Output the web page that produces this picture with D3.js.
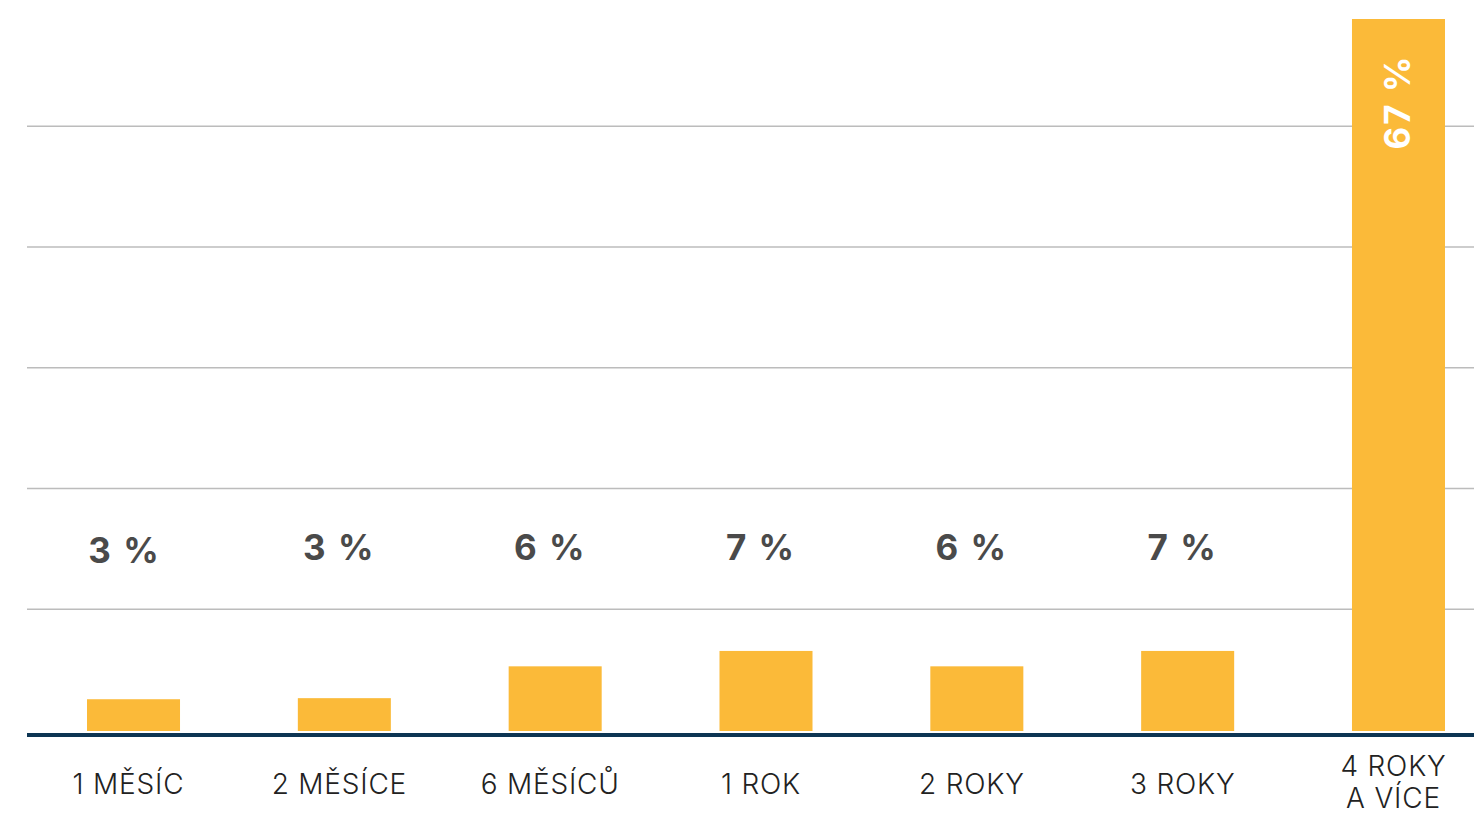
<!DOCTYPE html>
<html><head><meta charset="utf-8">
<script src="https://cdn.jsdelivr.net/npm/d3@7"></script>
<style>body{margin:0;background:#fff}svg{display:block}</style>
</head><body>
<svg id="c" width="1474" height="814"></svg>
<script>
const categories = [["1 MĚSÍC"],["2 MĚSÍCE"],["6 MĚSÍCŮ"],["1 ROK"],["2 ROKY"],["3 ROKY"],["4 ROKY","A VÍCE"]];
const values = [2.9, 3.0, 6.0, 7.45, 6.0, 7.45, 67];
const valueLabels = ["3 %","3 %","6 %","7 %","6 %","7 %","67 %"];
const gridValues = [11.38, 22.76, 34.14, 45.52, 56.9];

const svg = d3.select("#c");
const left = 27, right = 1474, y0 = 730, yTop = 19;
const x = d3.scaleBand().domain(d3.range(categories.length)).range([27, 1505]).paddingInner(0.5588).paddingOuter(0.2846);
const y = d3.scaleLinear().domain([0, 67]).range([y0, yTop]);

svg.append("g").selectAll("line").data(gridValues).join("line")
  .attr("x1", left).attr("x2", right)
  .attr("y1", d => y(d)).attr("y2", d => y(d))
  .attr("stroke", "#bcbcbc").attr("stroke-width", 1.5);

svg.append("g").selectAll("rect").data(values).join("rect")
  .attr("x", (d,i) => x(i)).attr("width", x.bandwidth())
  .attr("y", d => y(d)).attr("height", d => y0 - y(d) + 1)
  .attr("fill", "#FBBA39");

svg.append("line").attr("x1", left).attr("x2", right).attr("y1", 735).attr("y2", 735)
  .attr("stroke", "#0d3553").attr("stroke-width", 4);

// value labels
svg.append("g").selectAll("text").data(values).join("text")
  .each(function(d,i){
    const t = d3.select(this);
    const cx = x(i) + x.bandwidth()/2;
    if (i === values.length - 1) {
      t.attr("transform", `translate(${cx + 12},${y(d) + 83}) rotate(-90)`)
       .attr("text-anchor","middle").attr("fill","#fff");
    } else {
      t.attr("x", cx - (i === 0 ? 9 : 5)).attr("y", i === 0 ? 563 : 560)
       .attr("text-anchor","middle").attr("fill","#4a4a4a");
    }
    t.text(valueLabels[i]);
  })
  .attr("font-family","Inter, Liberation Sans, Arial, sans-serif")
  .attr("font-weight","bold").attr("font-size",35).attr("letter-spacing","2px");

// category labels
const cg = svg.append("g").selectAll("text").data(categories).join("text")
  .attr("text-anchor","middle")
  .attr("font-family","Inter, Liberation Sans, Arial, sans-serif")
  .attr("font-weight",300)
  .attr("font-size",28).attr("fill","#222").attr("letter-spacing","0.8px");
cg.each(function(lines,i){
  const t = d3.select(this);
  const cx = x(i) + x.bandwidth()/2 - 5;
  const startY = lines.length > 1 ? 776 : 794;
  lines.forEach((ln,j) => t.append("tspan").attr("x", cx).attr("y", startY + j*32).text(ln));
});
</script>
</body></html>
